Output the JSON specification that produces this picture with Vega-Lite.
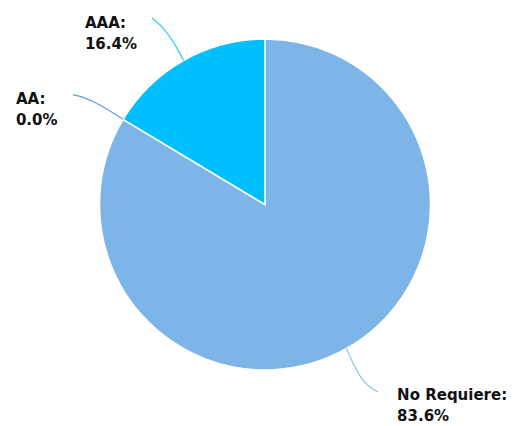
{
  "$schema": "https://vega.github.io/schema/vega-lite/v6.json",
  "width": 514,
  "height": 426,
  "padding": 0,
  "autosize": {"type": "fit", "contains": "padding"},
  "background": "white",
  "config": {"view": {"stroke": null}},
  "datasets": {
    "sectores": [
      {"categoria": "No Requiere", "porcentaje": 83.6, "orden": 1},
      {"categoria": "AA", "porcentaje": 0.0, "orden": 2},
      {"categoria": "AAA", "porcentaje": 16.4, "orden": 3}
    ],
    "guias": [
      {"categoria": "AAA", "paso": 1, "u": -0.683, "v": 1.127},
      {"categoria": "AAA", "paso": 2, "u": -0.616, "v": 1.066},
      {"categoria": "AAA", "paso": 3, "u": -0.562, "v": 0.994},
      {"categoria": "AAA", "paso": 4, "u": -0.526, "v": 0.934},
      {"categoria": "AAA", "paso": 5, "u": -0.492, "v": 0.870},
      {"categoria": "AA", "paso": 1, "u": -1.160, "v": 0.662},
      {"categoria": "AA", "paso": 2, "u": -1.118, "v": 0.653},
      {"categoria": "AA", "paso": 3, "u": -1.039, "v": 0.622},
      {"categoria": "AA", "paso": 4, "u": -0.937, "v": 0.565},
      {"categoria": "AA", "paso": 5, "u": -0.857, "v": 0.515},
      {"categoria": "No Requiere", "paso": 1, "u": 0.492, "v": -0.870},
      {"categoria": "No Requiere", "paso": 2, "u": 0.532, "v": -0.958},
      {"categoria": "No Requiere", "paso": 3, "u": 0.586, "v": -1.054},
      {"categoria": "No Requiere", "paso": 4, "u": 0.634, "v": -1.103},
      {"categoria": "No Requiere", "paso": 5, "u": 0.683, "v": -1.133}
    ],
    "etiquetas": [
      {"categoria": "AAA", "texto": "AAA:\n16.4%", "u": -1.088, "v": 1.139},
      {"categoria": "AA", "texto": "AA:\n0.0%", "u": -1.505, "v": 0.680},
      {"categoria": "No Requiere", "texto": "No Requiere:\n83.6%", "u": 0.798, "v": -1.109}
    ]
  },
  "layer": [
    {
      "data": {"name": "sectores"},
      "mark": {"type": "arc", "outerRadius": 165.5, "stroke": "white", "strokeWidth": 1.5},
      "encoding": {
        "x": {"datum": 0, "type": "quantitative", "scale": {"domain": [-1.6012, 1.5045], "nice": false, "zero": false}, "axis": null},
        "y": {"datum": 0, "type": "quantitative", "scale": {"domain": [-1.3384, 1.2356], "nice": false, "zero": false}, "axis": null},
        "theta": {"field": "porcentaje", "type": "quantitative", "stack": true},
        "order": {"field": "orden", "type": "quantitative"},
        "color": {
          "field": "categoria",
          "type": "nominal",
          "scale": {"domain": ["No Requiere", "AA", "AAA"], "range": ["#7db5e9", "#3f8ed6", "#00bfff"]},
          "legend": null
        }
      }
    },
    {
      "data": {"name": "guias"},
      "mark": {"type": "line", "interpolate": "monotone", "strokeWidth": 1.2, "opacity": 0.85},
      "encoding": {
        "x": {"field": "u", "type": "quantitative"},
        "y": {"field": "v", "type": "quantitative"},
        "order": {"field": "paso", "type": "quantitative"},
        "color": {"field": "categoria", "type": "nominal", "legend": null}
      }
    },
    {
      "data": {"name": "etiquetas"},
      "mark": {
        "type": "text",
        "align": "left",
        "baseline": "top",
        "lineBreak": "\n",
        "lineHeight": 21,
        "font": "DejaVu Sans",
        "fontSize": 15,
        "fontWeight": "bold",
        "color": "#111111"
      },
      "encoding": {
        "x": {"field": "u", "type": "quantitative"},
        "y": {"field": "v", "type": "quantitative"},
        "text": {"field": "texto"}
      }
    }
  ]
}
